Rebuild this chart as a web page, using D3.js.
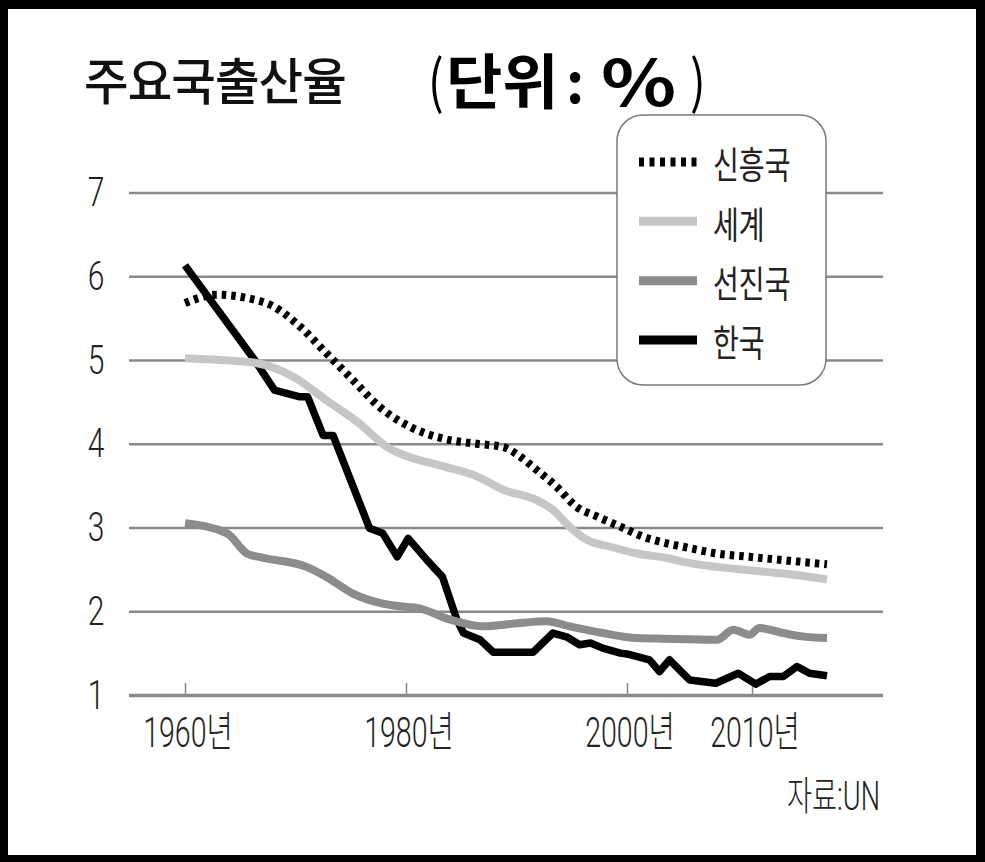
<!DOCTYPE html>
<html><head><meta charset="utf-8">
<script src="https://cdn.jsdelivr.net/npm/d3@7"></script>
<style>
html,body{margin:0;padding:0;background:#000;}
svg{display:block;}
</style></head>
<body>
<script>
// ---- data ----
const yTicks = [1, 2, 3, 4, 5, 6, 7];
const xTicks = [1960, 1980, 2000, 2010];
const xTickLabels = ["1960년", "1980년", "2000년", "2010년"];
const seriesNames = ["신흥국", "세계", "선진국", "한국"];

const emergingYears  = [1960, 1962.9, 1965.6, 1968, 1970.4, 1972.8, 1975.2, 1977.6, 1980.4, 1983.4, 1986.4, 1988.8, 1990.3, 1991.8, 1993.6, 1995.4, 1997.3, 1999.4, 2001.3, 2003.2, 2004.5, 2007.2, 2009.8, 2012.5, 2016];
const emergingValues = [5.68, 5.78, 5.74, 5.64, 5.40, 5.08, 4.76, 4.44, 4.20, 4.06, 4.00, 3.96, 3.85, 3.69, 3.49, 3.25, 3.13, 3.01, 2.89, 2.81, 2.77, 2.69, 2.65, 2.61, 2.56];

const worldYears  = [1960, 1963.2, 1966.2, 1969.8, 1972.8, 1975.8, 1978.3, 1980.1, 1983.4, 1986.4, 1988.8, 1991.8, 1993.3, 1994.8, 1996.4, 1998.5, 2000.8, 2003.4, 2004.5, 2007.2, 2009.8, 2012.5, 2016];
const worldValues = [5.02, 5.00, 4.97, 4.80, 4.52, 4.24, 3.96, 3.85, 3.73, 3.61, 3.45, 3.33, 3.21, 3.01, 2.85, 2.77, 2.69, 2.63, 2.59, 2.53, 2.49, 2.45, 2.38];

const developedYears  = [1960, 1963.8, 1965.6, 1967, 1971, 1972.8, 1975.2, 1977.9, 1980.1, 1981, 1984, 1987, 1990.3, 1992.7, 1994.8, 1997.8, 2000.8, 2004, 2007.2, 2008.5, 2009.8, 2010.6, 2012.5, 2014, 2016];
const developedValues = [3.05, 2.93, 2.69, 2.64, 2.53, 2.41, 2.21, 2.09, 2.05, 2.04, 1.90, 1.82, 1.86, 1.88, 1.82, 1.74, 1.68, 1.67, 1.66, 1.78, 1.72, 1.80, 1.74, 1.70, 1.68];

const koreaYears  = [1960, 1966.3, 1968.1, 1970.4, 1971.1, 1972.5, 1973.4, 1976.7, 1977.9, 1979.2, 1980.2, 1981.9, 1983.3, 1984.6, 1985.2, 1986.7, 1987.9, 1991.5, 1993.3, 1994.6, 1995.7, 1996.7, 1997.8, 1999.4, 2000, 2001.8, 2002.6, 2003.4, 2005, 2007.1, 2008.9, 2010.3, 2011.4, 2012.5, 2013.6, 2014.6, 2016];
const koreaValues = [6.13, 5.00, 4.64, 4.56, 4.56, 4.10, 4.10, 2.99, 2.93, 2.65, 2.87, 2.61, 2.41, 1.90, 1.74, 1.66, 1.51, 1.51, 1.74, 1.69, 1.60, 1.62, 1.56, 1.50, 1.49, 1.42, 1.28, 1.42, 1.18, 1.14, 1.26, 1.13, 1.22, 1.22, 1.34, 1.26, 1.23];

const W = 985, H = 862;
const svg = d3.select("body").append("svg").attr("width", W).attr("height", H);
svg.append("rect").attr("x", 8).attr("y", 9).attr("width", 968).attr("height", 846).attr("fill", "#fff");

const x = d3.scaleLinear().domain([1960, 2000, 2016]).range([185, 627, 827]);
const y = d3.scaleLinear().domain([1, 7]).range([695, 192.5]);
const gridX0 = 129, gridX1 = 883;

const KR = "'Noto Sans CJK KR', sans-serif";
const NUM = "Roboto, 'Noto Sans CJK KR', sans-serif";

// title
svg.append("text").attr("transform", "translate(84,78) scale(0.97,1)")
  .attr("dominant-baseline", "central").attr("font-family", KR).attr("font-size", 50)
  .attr("font-weight", 500).attr("fill", "#111").attr("letter-spacing", -1).text("주요국출산율");
const unitParts = [
  {t: "(", x: 428, w: 400, s: 58, sx: 0.8},
  {t: "단위", x: 446, w: 700, s: 60, sx: 1.02},
  {t: ":", x: 566, w: 700, s: 56, sx: 1},
  {t: "%", x: 601, w: 700, s: 64, sx: 1.22},
  {t: ")", x: 690, w: 400, s: 58, sx: 0.8},
];
svg.append("g").selectAll("text").data(unitParts).join("text")
  .attr("transform", d => `translate(${d.x},78) scale(${d.sx},1)`)
  .attr("dominant-baseline", "central").attr("font-family", KR)
  .attr("font-size", d => d.s).attr("font-weight", d => d.w).attr("fill", "#000")
  .text(d => d.t);

// gridlines via axis
const grid = svg.append("g").attr("transform", `translate(${gridX0},0)`)
  .call(d3.axisRight(y).tickValues(yTicks).tickSize(gridX1 - gridX0).tickFormat(""));
grid.select(".domain").remove();
grid.selectAll(".tick line").attr("stroke", "#8a8a8a").attr("stroke-width", d => d === 1 ? 3.5 : 2.5);

// y labels
svg.append("g").selectAll("text").data(yTicks).join("text")
  .attr("transform", d => `translate(96,${y(d)}) scale(0.75,1)`)
  .attr("text-anchor", "middle").attr("dominant-baseline", "central")
  .attr("font-family", NUM).attr("font-weight", 300).attr("font-size", 40).attr("fill", "#222")
  .text(d => d);

// x ticks
const xa = svg.append("g").attr("transform", `translate(0,${y(1)})`)
  .call(d3.axisTop(x).tickValues(xTicks).tickSize(12).tickFormat(""));
xa.select(".domain").remove();
xa.selectAll(".tick line").attr("stroke", "#888").attr("stroke-width", 1.5);

// x labels
svg.append("g").selectAll("text").data(xTicks).join("text")
  .attr("transform", d => `translate(${x(d) + 3},733) scale(0.68,1)`)
  .attr("text-anchor", "middle").attr("dominant-baseline", "central")
  .attr("font-family", NUM).attr("font-weight", 300).attr("font-size", 42).attr("fill", "#222")
  .text((d, i) => xTickLabels[i]);

// source
svg.append("text").attr("transform", "translate(880,796) scale(0.68,1)")
  .attr("text-anchor", "end").attr("dominant-baseline", "central")
  .attr("font-family", NUM).attr("font-weight", 300).attr("font-size", 40).attr("fill", "#222")
  .text("자료:UN");

// lines
const smooth = d3.line().x(d => x(d[0])).y(d => y(d[1])).curve(d3.curveMonotoneX);
const sharp = d3.line().x(d => x(d[0])).y(d => y(d[1])).curve(d3.curveLinear);
const zip = (a, b) => a.map((v, i) => [v, b[i]]);

const styles = [
  {name: seriesNames[3], data: zip(koreaYears, koreaValues), color: "#000", w: 7.5, dash: null, gen: sharp},
  {name: seriesNames[1], data: zip(worldYears, worldValues), color: "#c6c6c6", w: 8, dash: null, gen: smooth},
  {name: seriesNames[2], data: zip(developedYears, developedValues), color: "#8c8c8c", w: 8, dash: null, gen: smooth},
  {name: seriesNames[0], data: zip(emergingYears, emergingValues), color: "#000", w: 8, dash: "4.5,5", gen: smooth},
];
styles.forEach(s => {
  svg.append("path").attr("d", s.gen(s.data)).attr("fill", "none")
    .attr("stroke", s.color).attr("stroke-width", s.w)
    .attr("stroke-linejoin", "round")
    .attr("stroke-dasharray", s.dash);
});

// legend
const lg = svg.append("g");
lg.append("rect").attr("x", 617).attr("y", 115).attr("width", 209).attr("height", 270).attr("rx", 26)
  .attr("fill", "#fff").attr("stroke", "#7a7a7a").attr("stroke-width", 1.5);
const legendItems = [
  {name: seriesNames[0], color: "#000", dash: "5,5.5"},
  {name: seriesNames[1], color: "#c6c6c6", dash: null},
  {name: seriesNames[2], color: "#8c8c8c", dash: null},
  {name: seriesNames[3], color: "#000", dash: null},
];
const rowY = d3.scalePoint().domain(legendItems.map(d => d.name)).range([162, 340]);
legendItems.forEach(it => {
  lg.append("line").attr("x1", 639).attr("x2", 697).attr("y1", rowY(it.name)).attr("y2", rowY(it.name))
    .attr("stroke", it.color).attr("stroke-width", 9).attr("stroke-dasharray", it.dash);
  lg.append("text").attr("transform", `translate(713,${rowY(it.name) + 1}) scale(0.76,1)`)
    .attr("dominant-baseline", "central").attr("font-family", KR).attr("font-size", 37)
    .attr("fill", "#222").text(it.name);
});
</script>
</body></html>
